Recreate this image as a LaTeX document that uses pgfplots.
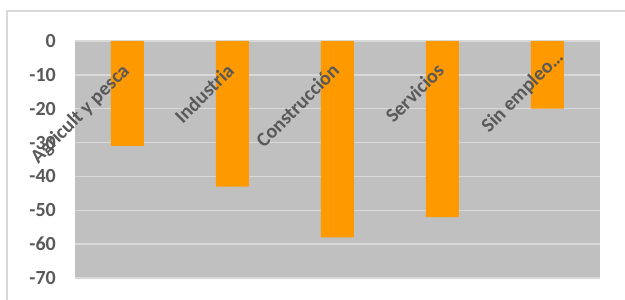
\documentclass[border=0pt]{standalone}
\usepackage{pgfplots}
\pgfplotsset{compat=1.18}
\usepackage{fontspec}
\setmainfont{Carlito}
\definecolor{bgc}{HTML}{C0C0C0}
\definecolor{gridc}{HTML}{D9D9D9}
\definecolor{barc}{HTML}{FF9900}
\definecolor{txtc}{HTML}{595959}
\definecolor{framec}{HTML}{D9D9D9}
\pgfplotsset{
  common/.style={
    at={(75pt,-41pt)}, anchor=north west,
    scale only axis, width=525pt, height=237pt,
    xmin=-0.5, xmax=4.5, ymin=-70, ymax=0,
    axis line style={draw=none},
    tick style={draw=none},
  }
}
\begin{document}
\begin{tikzpicture}
\useasboundingbox (0pt,0pt) rectangle (625pt,-300pt);
\draw[framec, line width=1.2pt] (7pt,-11pt) rectangle (660pt,-330pt);
\begin{axis}[
  common,
  axis background/.style={fill=bgc},
  ytick={-70,-60,-50,-40,-30,-20,-10,0},
  yticklabels={-70,-60,-50,-40,-30,-20,-10,0},
  ymajorgrids, major grid style={gridc, line width=1.5pt},
  xtick=\empty,
  yticklabel style={anchor=east, inner sep=0pt, xshift=-19pt,
     font=\fontsize{20}{20}\selectfont\bfseries, text=txtc},
  ybar, bar width=33pt,
]
\addplot[fill=barc, draw=none] coordinates {(0,-31) (1,-43) (2,-58) (3,-52) (4,-20)};
\end{axis}
\begin{axis}[
  common,
  ytick=\empty,
  xtick={0,1,2,3,4},
  xticklabels={Agricult y pesca,Industria,Construcción,Servicios,{Sin empleo…\kern-20pt\relax}},
  xticklabel pos=upper,
  xticklabel style={xshift=3pt, yshift=-31pt, rotate=45, anchor=base east, inner sep=0pt,
     font=\fontsize{20}{20}\selectfont\bfseries, text=txtc},
]
\end{axis}
\end{tikzpicture}
\end{document}
